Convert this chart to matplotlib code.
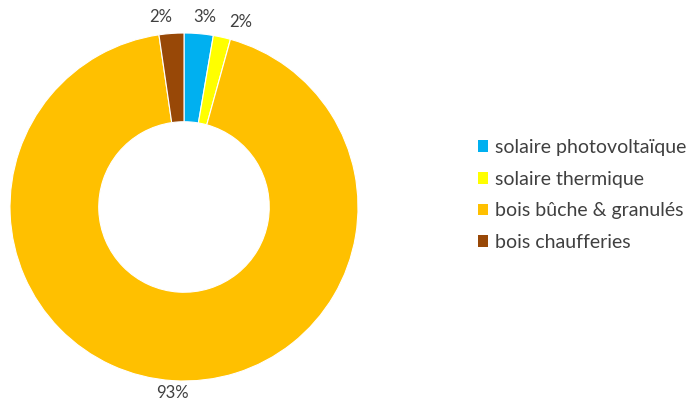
import matplotlib
matplotlib.use("Agg")
import matplotlib.pyplot as plt
from matplotlib.patches import Patch
import numpy as np

labels = ["solaire photovoltaïque", "solaire thermique", "bois bûche & granulés", "bois chaufferies"]
values = [2.7, 1.6, 93.4, 2.3]
pct_text = ["3%", "2%", "93%", "2%"]
colors = ["#00B0F0", "#FFFF00", "#FFC000", "#984807"]

plt.rcParams['font.family'] = ['Lato', 'DejaVu Sans']

fig = plt.figure(figsize=(6.88, 4.03), dpi=100)
# square axes centred on the donut
ax = fig.add_axes([4 / 688, 16 / 403, 360 / 688, 360 / 403])

wedges, _ = ax.pie(values, colors=colors, startangle=90, counterclock=False,
                   radius=1.0, wedgeprops=dict(width=0.51, edgecolor="white", linewidth=0.8))
ax.set_xlim(-1.0345, 1.0345)
ax.set_ylim(-1.0345, 1.0345)
ax.set_aspect("equal")
ax.axis("off")

# small nudges so the tiny-slice labels don't crowd (like excel best fit)
nudge = [-1.5, -4.5, 0, 3]
radii = [1.1, 1.11, 1.07, 1.1]
for w, txt, dn, r in zip(wedges, pct_text, nudge, radii):
    ang = np.deg2rad((w.theta1 + w.theta2) / 2 + dn)
    ax.text(r * np.cos(ang), r * np.sin(ang), txt, ha="center", va="center",
            fontsize=12, color="#404040")

handles = [Patch(facecolor=c, edgecolor="none") for c in colors]
fig.legend(handles, labels, loc="center left", bbox_to_anchor=(460 / 688, 1 - 195 / 403),
           frameon=False, fontsize=14, handlelength=0.55, handleheight=0.55,
           handletextpad=0.35, labelspacing=0.75, labelcolor="#404040")

fig.savefig("out.png", dpi=100)
